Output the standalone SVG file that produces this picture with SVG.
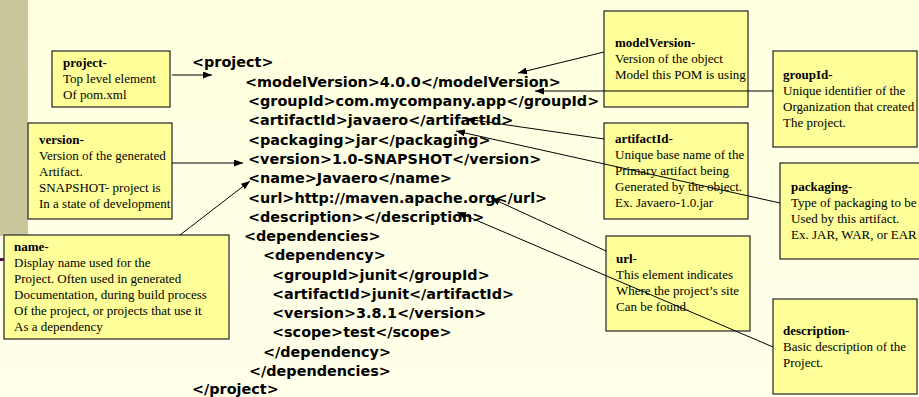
<svg xmlns="http://www.w3.org/2000/svg" width="919" height="397" viewBox="0 0 919 397">
  <defs>
    <linearGradient id="bg" x1="0" y1="0" x2="0" y2="1">
      <stop offset="0" stop-color="#FFFFDF"/>
      <stop offset="1" stop-color="#FFFFEA"/>
    </linearGradient>
    <marker id="arrow" markerUnits="userSpaceOnUse" markerWidth="9" markerHeight="7" refX="9" refY="3.5" orient="auto">
      <path d="M0,0 L9,3.5 L0,7 z" fill="#000"/>
    </marker>
    <style>
      .box { fill: #FFFF99; stroke: #333; stroke-width: 1.3; }
      .note { font-family: "Liberation Serif", "Times New Roman", serif; font-size: 13px; fill: #000; }
      .note .h { font-weight: bold; }
      .code { font-family: "DejaVu Sans", Verdana, sans-serif; font-weight: bold; font-size: 14.4px; fill: #000; }
      .link { fill: none; stroke: #000; stroke-width: 1; marker-end: url(#arrow); }
    </style>
  </defs>

  <!-- page background and side band -->
  <rect x="0" y="0" width="919" height="397" fill="url(#bg)"/>
  <rect x="0" y="0" width="28" height="236" fill="#C8C69B"/>
  <rect x="0" y="258" width="8" height="3" fill="#5A1050"/>

  <!-- POM listing -->
  <g id="pom-code" class="code">
    <text x="192" y="67">&lt;project&gt;</text>
    <text x="245" y="86.5">&lt;modelVersion&gt;4.0.0&lt;/modelVersion&gt;</text>
    <text x="248" y="106">&lt;groupId&gt;com.mycompany.app&lt;/groupId&gt;</text>
    <text x="248" y="125">&lt;artifactId&gt;javaero&lt;/artifactId&gt;</text>
    <text x="248" y="144.5">&lt;packaging&gt;jar&lt;/packaging&gt;</text>
    <text x="248" y="164">&lt;version&gt;1.0-SNAPSHOT&lt;/version&gt;</text>
    <text x="248" y="183">&lt;name&gt;Javaero&lt;/name&gt;</text>
    <text x="248" y="202.5">&lt;url&gt;http://maven.apache.org&lt;/url&gt;</text>
    <text x="248" y="221.5">&lt;description&gt;&lt;/description&gt;</text>
    <text x="244" y="241">&lt;dependencies&gt;</text>
    <text x="263" y="260">&lt;dependency&gt;</text>
    <text x="272" y="279.5">&lt;groupId&gt;junit&lt;/groupId&gt;</text>
    <text x="272" y="298.5">&lt;artifactId&gt;junit&lt;/artifactId&gt;</text>
    <text x="272" y="318">&lt;version&gt;3.8.1&lt;/version&gt;</text>
    <text x="272" y="337">&lt;scope&gt;test&lt;/scope&gt;</text>
    <text x="263" y="356.5">&lt;/dependency&gt;</text>
    <text x="249" y="375.5">&lt;/dependencies&gt;</text>
    <text x="192" y="394">&lt;/project&gt;</text>
  </g>

  <!-- callout notes -->
  <g id="node-project">
    <rect class="box" x="52" y="51" width="118" height="56"/>
    <text class="note" x="63" y="67"><tspan class="h">project-</tspan><tspan x="63" dy="16">Top level element</tspan><tspan x="63" dy="16">Of pom.xml</tspan></text>
  </g>

  <g id="node-version">
    <rect class="box" x="28" y="123" width="144" height="96"/>
    <text class="note" x="39" y="144"><tspan class="h">version-</tspan><tspan x="39" dy="16">Version of the generated</tspan><tspan x="39" dy="16">Artifact.</tspan><tspan x="39" dy="16">SNAPSHOT- project is</tspan><tspan x="39" dy="16">In a state of development</tspan></text>
  </g>

  <g id="node-name">
    <rect class="box" x="4" y="235" width="225" height="104"/>
    <text class="note" x="14" y="251"><tspan class="h">name-</tspan><tspan x="14" dy="16">Display name used for the</tspan><tspan x="14" dy="16">Project. Often used in generated</tspan><tspan x="14" dy="16">Documentation, during build process</tspan><tspan x="14" dy="16">Of the project, or projects that use it</tspan><tspan x="14" dy="16">As a dependency</tspan></text>
  </g>

  <g id="node-modelVersion">
    <rect class="box" x="604" y="11" width="144" height="96"/>
    <text class="note" x="615" y="47"><tspan class="h">modelVersion-</tspan><tspan x="615" dy="16">Version of the object</tspan><tspan x="615" dy="16">Model this POM is using</tspan></text>
  </g>

  <g id="node-groupId">
    <rect class="box" x="773" y="51" width="144" height="96"/>
    <text class="note" x="783" y="79"><tspan class="h">groupId-</tspan><tspan x="783" dy="16">Unique identifier of the</tspan><tspan x="783" dy="16">Organization that created</tspan><tspan x="783" dy="16">The project.</tspan></text>
  </g>

  <g id="node-artifactId">
    <rect class="box" x="604" y="123" width="144" height="96"/>
    <text class="note" x="615" y="143"><tspan class="h">artifactId-</tspan><tspan x="615" dy="16">Unique base name of the</tspan><tspan x="615" dy="16">Primary artifact being</tspan><tspan x="615" dy="16">Generated by the object.</tspan><tspan x="615" dy="16">Ex. Javaero-1.0.jar</tspan></text>
  </g>

  <g id="node-packaging">
    <rect class="box" x="780" y="163" width="150" height="96"/>
    <text class="note" x="791" y="191"><tspan class="h">packaging-</tspan><tspan x="791" dy="16">Type of packaging to be</tspan><tspan x="791" dy="16">Used by this artifact.</tspan><tspan x="791" dy="16">Ex. JAR, WAR, or EAR</tspan></text>
  </g>

  <g id="node-url">
    <rect class="box" x="606" y="236" width="144" height="95"/>
    <text class="note" x="616" y="263"><tspan class="h">url-</tspan><tspan x="616" dy="16">This element indicates</tspan><tspan x="616" dy="16">Where the project’s site</tspan><tspan x="616" dy="16">Can be found.</tspan></text>
  </g>

  <g id="node-description">
    <rect class="box" x="773" y="299" width="144" height="95"/>
    <text class="note" x="783" y="335"><tspan class="h">description-</tspan><tspan x="783" dy="16">Basic description of the</tspan><tspan x="783" dy="16">Project.</tspan></text>
  </g>

  <!-- connectors from each note to its element -->
  <g id="connectors">
    <line class="link" x1="172" y1="75" x2="212" y2="75"/>
    <line class="link" x1="172" y1="163" x2="243" y2="163"/>
    <line class="link" x1="180" y1="235" x2="250" y2="181"/>
    <line class="link" x1="604" y1="52" x2="518" y2="73"/>
    <line class="link" x1="773" y1="91" x2="535" y2="91"/>
    <line class="link" x1="604" y1="139" x2="466" y2="119"/>
    <line class="link" x1="780" y1="203" x2="456" y2="131"/>
    <line class="link" x1="606" y1="251" x2="491" y2="198"/>
    <line class="link" x1="773" y1="347" x2="457" y2="212"/>
  </g>
</svg>
